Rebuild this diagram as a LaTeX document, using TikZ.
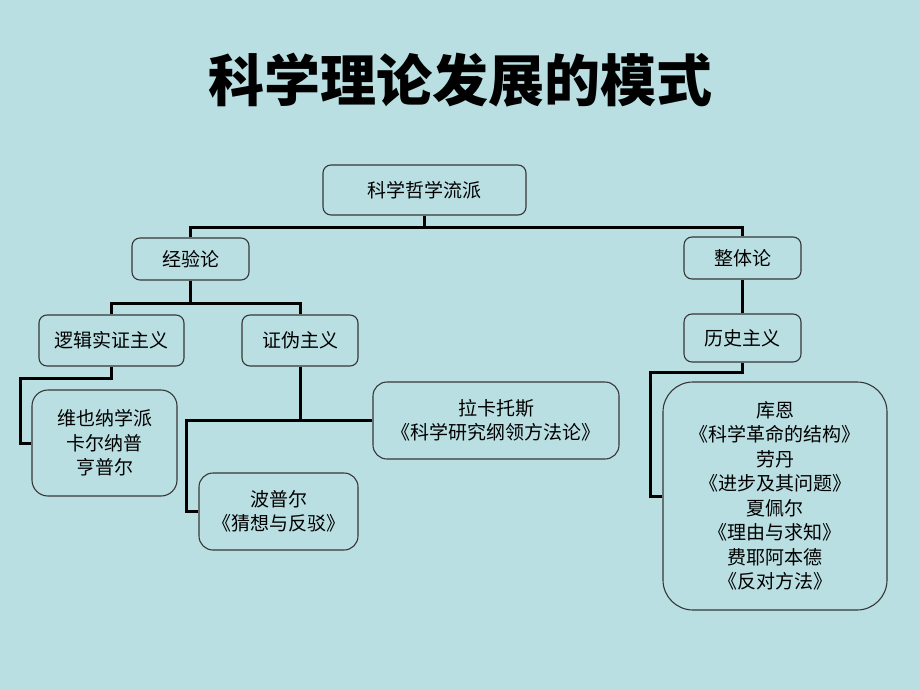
\documentclass[tikz,border=0pt]{standalone}
\usepackage{fontspec}
\setmainfont{Noto Sans CJK SC}
\definecolor{slidebg}{RGB}{185,223,226}
\definecolor{boxline}{RGB}{55,55,55}

\begin{document}
\begin{tikzpicture}[x=1pt,y=-1pt,
    main node/.style={rectangle,draw=boxline,line width=1.1pt,rounded corners=8pt,
                      align=center,inner sep=0pt,font=\fontsize{19}{24.5}\selectfont},
    link/.style={line width=3pt,black}]

  \fill[slidebg] (0,0) rectangle (920,690);
  \useasboundingbox (0,0) rectangle (920,690);

  \node[font=\fontsize{56}{60}\selectfont\bfseries] (title) at (460,80) {科学理论发展的模式};

  \node[main node,minimum width=203pt,minimum height=50pt] (1) at (424.5,190) {科学哲学流派};
  \node[main node,minimum width=117pt,minimum height=42pt] (2) at (190.5,259) {经验论};
  \node[main node,minimum width=117pt,minimum height=42pt] (3) at (742.5,258) {整体论};
  \node[main node,minimum width=145pt,minimum height=51pt] (4) at (111.5,340.5) {逻辑实证主义};
  \node[main node,minimum width=116pt,minimum height=51pt] (5) at (300,340.5) {证伪主义};
  \node[main node,minimum width=117pt,minimum height=48pt] (6) at (742.5,338) {历史主义};
  \node[main node,rounded corners=16pt,minimum width=145pt,minimum height=106pt] (7) at (104.5,443)
    {维也纳学派\\卡尔纳普\\亨普尔};
  \node[main node,rounded corners=14pt,minimum width=246pt,minimum height=77pt] (8) at (496,420.5)
    {拉卡托斯\\《科学研究纲领方法论》};
  \node[main node,rounded corners=14pt,minimum width=159pt,minimum height=77pt] (9) at (278.5,511.5)
    {波普尔\\《猜想与反驳》};
  \node[main node,rounded corners=30pt,minimum width=224pt,minimum height=228pt] (10) at (775,496)
    {库恩\\《科学革命的结构》\\劳丹\\《进步及其问题》\\夏佩尔\\《理由与求知》\\费耶阿本德\\《反对方法》};

  \draw[link] (1.south) -- ++(0,12) -| (2.north);
  \draw[link] (1.south) -- ++(0,12) -| (3.north);
  \draw[link] (2.south) -- ++(0,23) -| (4.north);
  \draw[link] (2.south) -- ++(0,23) -| (5.north);
  \draw[link] (3.south) -- (6.north);
  \draw[link] (4.south) -- ++(0,12) -| ([xshift=-11pt]7.west) -- (7.west);
  \draw[link] (5.south) |- (8.west);
  \draw[link] (8.west -| 5.south) -| ([xshift=-12pt]9.west) -- (9.west);
  \draw[link] (6.south) -- ++(0,10) -| ([xshift=-12pt]10.west) -- (10.west);
\end{tikzpicture}
\end{document}
